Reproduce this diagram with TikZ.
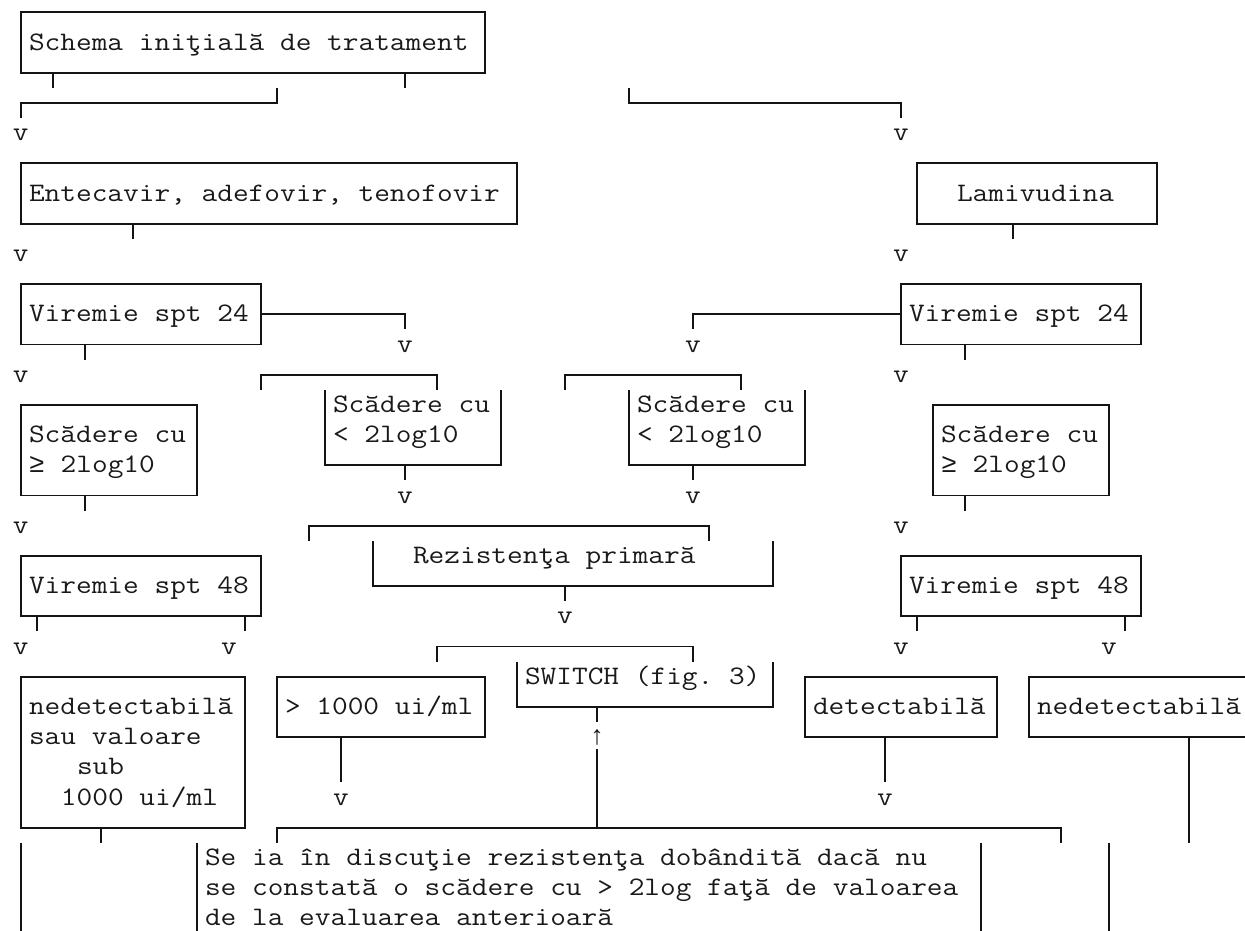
\documentclass[tikz,border=0pt]{standalone}
\usepackage{fontspec}
% typewriter face widened to a 12pt character cell
\newfontfamily\chartmono{Latin Modern Mono}[FakeStretch=1.142857]
\newfontfamily\symmono{Liberation Mono}
\newcommand\geqcell{\makebox[12pt]{\symmono ≥}}
% text placed on a character grid: column c, row r (cell centres)
\newcommand\chartlabel[4]{\node[glyphs] (#1) at ({#2-0.5},{#3+0.25}) {#4};}
\begin{document}
\begin{tikzpicture}[x=12pt,y=-22.65pt,
  rule/.style={line width=1.45pt, draw=black!92},
  glyphs/.style={anchor=base west, inner sep=0pt, outer sep=0pt, text=black!90,
    font=\chartmono\fontsize{20}{22.65}\selectfont\frenchspacing},
]
\useasboundingbox (-1.3125,-0.4073) rectangle (76.5,30.4205);

% ---------- closed boxes ----------
\draw[rule] (0,0) rectangle (29,2);    % Schema
\draw[rule] (0,5) rectangle (31,7);    % Entecavir
\draw[rule] (56,5) rectangle (71,7);   % Lamivudina
\draw[rule] (0,9) rectangle (15,11);   % Viremie 24 left
\draw[rule] (55,9) rectangle (70,11);  % Viremie 24 right
\draw[rule] (0,13) rectangle (11,16);  % scadere >= left
\draw[rule] (57,13) rectangle (68,16); % scadere >= right
\draw[rule] (0,18) rectangle (15,20);  % Viremie 48 left
\draw[rule] (55,18) rectangle (70,20); % Viremie 48 right
\draw[rule] (0,22) rectangle (14,27);  % nedetectabila left
\draw[rule] (16,22) rectangle (29,24); % > 1000
\draw[rule] (49,22) rectangle (61,24); % detectabila
\draw[rule] (63,22) rectangle (77,24); % nedetectabila right

% ---------- open-top boxes ----------
\draw[rule] (19,12.5) -- (19,15) -- (30,15) -- (30,12.5);
\draw[rule] (38,12.5) -- (38,15) -- (49,15) -- (49,12.5);
\draw[rule] (22,17.5) -- (22,19) -- (47,19) -- (47,17.5);
\draw[rule] (31,21.5) -- (31,23) -- (47,23) -- (47,21.5);

% ---------- connectors ----------
\draw[rule] (2,2) -- (2,2.5);
\draw[rule] (24,2) -- (24,2.5);
\draw[rule] (16,2.5) -- (16,3) -- (0,3) -- (0,3.5);
\draw[rule] (38,2.5) -- (38,3) -- (55,3) -- (55,3.5);
\draw[rule] (7,7) -- (7,7.5);
\draw[rule] (62,7) -- (62,7.5);
\draw[rule] (15,10) -- (24,10) -- (24,10.5);
\draw[rule] (55,10) -- (42,10) -- (42,10.5);
\draw[rule] (4,11) -- (4,11.5);
\draw[rule] (59,11) -- (59,11.5);
\draw[rule] (15,12.5) -- (15,12) -- (26,12) -- (26,12.5);
\draw[rule] (34,12.5) -- (34,12) -- (45,12) -- (45,12.5);
\draw[rule] (24,15) -- (24,15.5);
\draw[rule] (42,15) -- (42,15.5);
\draw[rule] (4,16) -- (4,16.5);
\draw[rule] (59,16) -- (59,16.5);
\draw[rule] (18,17.5) -- (18,17) -- (43,17) -- (43,17.5);
\draw[rule] (34,19) -- (34,19.5);
\draw[rule] (1,20) -- (1,20.5);
\draw[rule] (14,20) -- (14,20.5);
\draw[rule] (56,20) -- (56,20.5);
\draw[rule] (69,20) -- (69,20.5);
\draw[rule] (26,21.5) -- (26,21) -- (42,21) -- (42,21.5);
\draw[rule] (36,23) -- (36,23.5);
\draw[rule] (20,24) -- (20,25.5);
\draw[rule] (54,24) -- (54,25.5);
\draw[rule] (73,24) -- (73,27.5);
\draw[rule] (5,27) -- (5,27.5);
\draw[rule] (16,27.5) -- (16,27) -- (65,27) -- (65,27.5);
\draw[rule] (36,24.4) -- (36,27);
\draw[rule] (0,27.5) -- (0,31);
\draw[rule] (11,27.5) -- (11,31);
\draw[rule] (60,27.5) -- (60,31);
\draw[rule] (68,27.5) -- (68,31);

% ---------- arrow marks ----------
\chartlabel{va}{0}{4}{v}
\chartlabel{vb}{55}{4}{v}
\chartlabel{vc}{0}{8}{v}
\chartlabel{vd}{55}{8}{v}
\chartlabel{ve}{24}{11}{v}
\chartlabel{vf}{42}{11}{v}
\chartlabel{vg}{0}{12}{v}
\chartlabel{vh}{55}{12}{v}
\chartlabel{vi}{24}{16}{v}
\chartlabel{vj}{42}{16}{v}
\chartlabel{vk}{0}{17}{v}
\chartlabel{vl}{55}{17}{v}
\chartlabel{vm}{34}{20}{v}
\chartlabel{vn}{0}{21}{v}
\chartlabel{vo}{13}{21}{v}
\chartlabel{vp}{55}{21}{v}
\chartlabel{vq}{68}{21}{v}
\chartlabel{vr}{20}{26}{v}
\chartlabel{vs}{54}{26}{v}
\chartlabel{up}{36}{24}{\symmono ↑}

% ---------- box texts ----------
\chartlabel{schema}{1}{1}{Schema iniţială de tratament}
\chartlabel{entec}{1}{6}{Entecavir, adefovir, tenofovir}
\chartlabel{lamiv}{59}{6}{Lamivudina}
\chartlabel{vtwl}{1}{10}{Viremie spt 24}
\chartlabel{vtwr}{56}{10}{Viremie spt 24}
\chartlabel{sltla}{20}{13}{Scădere cu}
\chartlabel{sltlb}{20}{14}{< 2log10}
\chartlabel{sltra}{39}{13}{Scădere cu}
\chartlabel{sltrb}{39}{14}{< 2log10}
\chartlabel{sgela}{1}{14}{Scădere cu}
\chartlabel{sgelb}{1}{15}{\geqcell{} 2log10}
\chartlabel{sgera}{58}{14}{Scădere cu}
\chartlabel{sgerb}{58}{15}{\geqcell{} 2log10}
\chartlabel{rez}{25}{18}{Rezistenţa primară}
\chartlabel{vfel}{1}{19}{Viremie spt 48}
\chartlabel{vfer}{56}{19}{Viremie spt 48}
\chartlabel{switch}{32}{22}{SWITCH (fig. 3)}
\chartlabel{nedla}{1}{23}{nedetectabilă}
\chartlabel{nedlb}{1}{24}{sau valoare}
\chartlabel{nedlc}{4}{25}{sub}
\chartlabel{nedld}{3}{26}{1000 ui/ml}
\chartlabel{gtk}{17}{23}{> 1000 ui/ml}
\chartlabel{det}{50}{23}{detectabilă}
\chartlabel{nedr}{64}{23}{nedetectabilă}
\chartlabel{notea}{12}{28}{Se ia în discuţie rezistenţa dobândită dacă nu}
\chartlabel{noteb}{12}{29}{se constată o scădere cu > 2log faţă de valoarea}
\chartlabel{notec}{12}{30}{de la evaluarea anterioară}
\end{tikzpicture}
\end{document}
